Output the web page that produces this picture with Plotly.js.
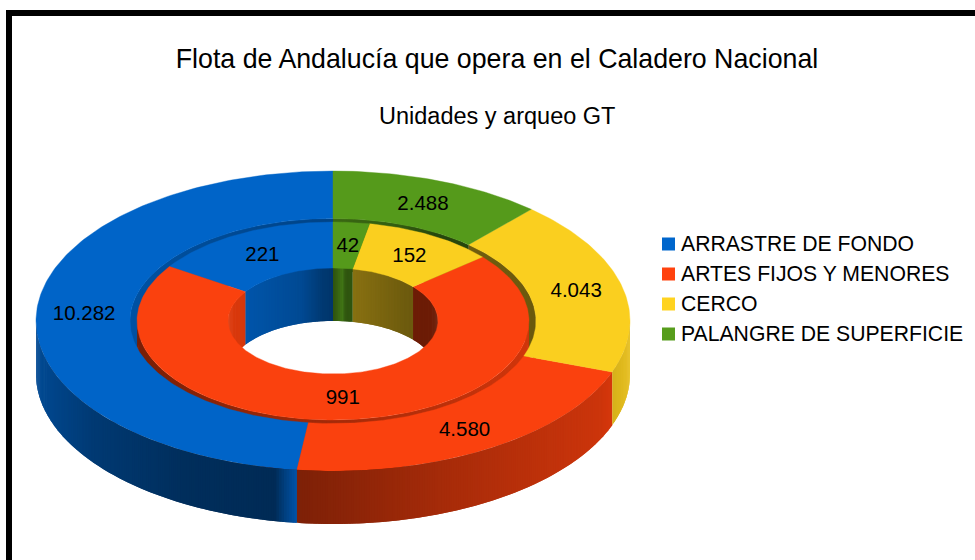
<!DOCTYPE html>
<html>
<head>
<meta charset="utf-8">
<script src="https://cdn.plot.ly/plotly-3.0.1.min.js"></script>
<style>html,body{margin:0;padding:0;background:#fff}#chart{width:975px;height:560px}</style>
</head>
<body>
<div id="chart"></div>
<script>
const categories = ["ARRASTRE DE FONDO", "ARTES FIJOS Y MENORES", "CERCO", "PALANGRE DE SUPERFICIE"];
const arqueoGT = [10282, 4580, 4043, 2488];
const unidades = [221, 991, 152, 42];
const colors = ["#0066cc", "#ff420e", "#ffd320", "#579d1c"];
const chartTitle = "Flota de Andalucía que opera en el Caladero Nacional";
const chartSubtitle = "Unidades y arqueo GT";

const FONT = '"Liberation Sans", Arial, sans-serif';
const CX = 333, CY = 321, SQUASH = 0.505, DEPTH = 53;
const R_OUT = 297, R_OUT_IN = 203, R_IN = 196, R_HOLE = 105;

const rad = d => d * Math.PI / 180;
const px = (r, a) => CX - r * Math.sin(rad(a));
const py = (r, a, dz) => CY - r * SQUASH * Math.cos(rad(a)) + (dz || 0);
const fmt = v => String(v).replace(/\B(?=(\d{3})+$)/g, ".");

function shadeColor(hex, f) {
  const n = parseInt(hex.slice(1), 16);
  const ch = [(n >> 16) & 255, (n >> 8) & 255, n & 255].map(c => Math.round(c * f));
  return `rgb(${ch[0]},${ch[1]},${ch[2]})`;
}
function ramp(table, t) {
  if (t <= table[0][0]) return table[0][1];
  for (let i = 1; i < table.length; i++) {
    if (t <= table[i][0]) {
      const [x0, y0] = table[i - 1], [x1, y1] = table[i];
      return y0 + (y1 - y0) * (t - x0) / (x1 - x0);
    }
  }
  return table[table.length - 1][1];
}
function segments(values) {
  const tot = values.reduce((s, v) => s + v, 0);
  let acc = 0;
  return values.map((v, i) => {
    const a0 = acc / tot * 360; acc += v;
    return { i, a0, a1: acc / tot * 360, mid: (a0 + acc / tot * 360) / 2, v };
  });
}
const poly = (xs, ys, color, lw) => ({
  type: "scatter", mode: "lines", x: xs, y: ys, fill: "toself", fillcolor: color,
  line: lw ? { color: color, width: lw } : { width: 0 }, hoverinfo: "skip", showlegend: false
});

function annulus(seg, rOuter, rInner) {
  const xs = [], ys = [];
  for (let a = seg.a0; a < seg.a1; a += 1) { xs.push(px(rOuter, a)); ys.push(py(rOuter, a)); }
  xs.push(px(rOuter, seg.a1)); ys.push(py(rOuter, seg.a1));
  for (let a = seg.a1; a > seg.a0; a -= 1) { xs.push(px(rInner, a)); ys.push(py(rInner, a)); }
  xs.push(px(rInner, seg.a0)); ys.push(py(rInner, seg.a0));
  xs.push(xs[0]); ys.push(ys[0]);
  return poly(xs, ys, shadeColor(colors[seg.i], 0.98), 0.4);
}
// wall strips for a radius between two angles, shaded per horizontal position.
// Each strip overlaps the following one, which is painted on top, so no seams show.
function wall(segs, r, visible, table, step, extra) {
  const out = [];
  segs.forEach(seg => {
    visible.forEach(([v0, v1]) => {
      const lo = Math.max(seg.a0, v0), hi = Math.min(seg.a1, v1);
      if (hi <= lo) return;
      for (let a = lo; a < hi; a += step) {
        const b = Math.min(a + step, hi);
        const e = Math.min(b + step, hi);
        const m = (a + b) / 2;
        let f = ramp(table, -Math.sin(rad(m)));
        if (extra) f = extra(seg, b, f);
        const xs = [], ys = [];
        const n = 3;
        for (let k = 0; k <= n; k++) { const t = a + (e - a) * k / n; xs.push(px(r, t)); ys.push(py(r, t)); }
        for (let k = n; k >= 0; k--) { const t = a + (e - a) * k / n; xs.push(px(r, t)); ys.push(py(r, t, DEPTH)); }
        xs.push(xs[0]); ys.push(ys[0]);
        out.push(poly(xs, ys, shadeColor(colors[seg.i], f), 0));
      }
    });
  });
  return out;
}

const outerSegs = segments(arqueoGT);
const innerSegs = segments(unidades);
const FRONT = [[90, 270]];
const BACK = [[0, 90], [270, 360]];

const outerWallShade = [[-1, .72], [-.8, .56], [-.5, .45], [-.2, .42], [-.12, .49], [.4, .66], [.9, .8], [1, .9]];
const innerFrontShade = [[-1, .47], [-.5, .56], [0, .64], [.5, .72], [1, .82]];
const holeShade = [[-1, .86], [-.85, .84], [-.3, .72], [-.1, .56], [0, .52], [.09, .75], [.115, .55], [.7, .43], [1, .42]];
const gapShade = [[-1, .8], [-.5, .72], [0, .66], [.3, .6], [.5, .45], [1, .42]];

const traces = [].concat(
  wall(outerSegs, R_OUT_IN, BACK, gapShade, 2),
  wall(innerSegs, R_IN, FRONT, innerFrontShade, 1),
  wall(innerSegs, R_HOLE, BACK, holeShade, 1),
  innerSegs.map(s => annulus(s, R_IN, R_HOLE)),
  outerSegs.map(s => annulus(s, R_OUT, R_OUT_IN)),
  wall(outerSegs, R_OUT, FRONT, outerWallShade, 0.5, (seg, b, f) => {
    const fromEnd = seg.a1 - b;
    return (seg.i === 0 && fromEnd < 4) ? f + (0.8 - f) * (1 - fromEnd / 4) : f;
  })
);

// data labels
const LABEL_DX = 0.7, LABEL_DY = 2;
const labelSets = [[outerSegs, (R_OUT + R_OUT_IN) / 2], [innerSegs, (R_IN + R_HOLE) / 2]];
labelSets.forEach(([segs, r]) => {
  traces.push({
    type: "scatter", mode: "text",
    x: segs.map(s => px(r, s.mid) + LABEL_DX), y: segs.map(s => py(r, s.mid, LABEL_DY)),
    text: segs.map(s => fmt(s.v)), textposition: "middle center",
    textfont: { family: FONT, size: 20.5, color: "#000" },
    hoverinfo: "skip", showlegend: false, cliponaxis: false
  });
});

// legend
categories.forEach((c, i) => {
  const ly = 244 + i * 30;
  traces.push({
    type: "scatter", mode: "markers", name: c, x: [668.5], y: [ly],
    marker: { symbol: "square", size: 13, color: colors[i] },
    hoverinfo: "name", showlegend: false, cliponaxis: false
  });
  traces.push({
    type: "scatter", mode: "text", x: [681], y: [ly + 2], text: [c], textposition: "middle right",
    textfont: { family: FONT, size: 21.2, color: "#000" },
    hoverinfo: "skip", showlegend: false, cliponaxis: false
  });
});

const layout = {
  width: 975, height: 560, margin: { l: 0, r: 0, t: 0, b: 0 },
  paper_bgcolor: "#fff", plot_bgcolor: "#fff", showlegend: false,
  xaxis: { range: [0, 975], visible: false, fixedrange: true },
  yaxis: { range: [560, 0], visible: false, fixedrange: true },
  title: { text: chartTitle, font: { family: FONT, size: 26.75, color: "#000" },
           x: 497 / 975, xanchor: "center", xref: "paper", y: 1 - 59 / 560, yanchor: "middle", yref: "container" },
  annotations: [{ text: chartSubtitle, xref: "x", yref: "y", x: 497, y: 116, showarrow: false,
                  xanchor: "center", yanchor: "middle", font: { family: FONT, size: 23.5, color: "#000" } }],
  shapes: [{ type: "rect", xref: "x", yref: "y", x0: 9, y0: 13, x1: 1000, y1: 600,
             line: { color: "#000", width: 6 }, fillcolor: "rgba(0,0,0,0)", layer: "above" }]
};
Plotly.newPlot("chart", traces, layout, { displayModeBar: false, responsive: false });
</script>
</body>
</html>
